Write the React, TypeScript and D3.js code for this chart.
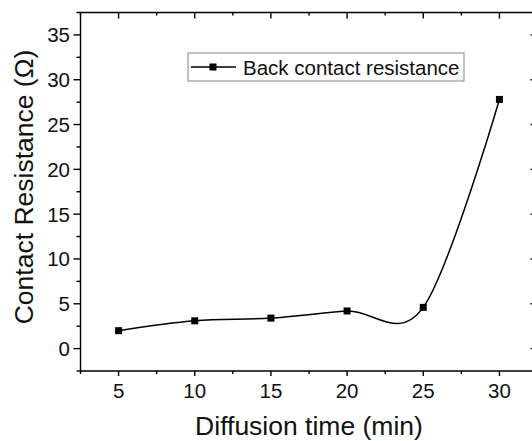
import React from "react";
import * as d3 from "d3";

const times = [5, 10, 15, 20, 25, 30];
const resistance = [2.0, 3.1, 3.4, 4.2, 4.6, 27.8];
const xTicks = [5, 10, 15, 20, 25, 30];
const yTicks = [0, 5, 10, 15, 20, 25, 30, 35];
const xMinor = [2.5, 7.5, 12.5, 17.5, 22.5, 27.5, 32.5];
const yMinor = [-2.5, 2.5, 7.5, 12.5, 17.5, 22.5, 27.5, 32.5, 37.5];
const seriesName = "Back contact resistance";
const xTitle = "Diffusion time (min)";
const yTitle = "Contact Resistance (Ω)";

const W = 532;
const H = 441;
const font = "'Liberation Sans', Arial, sans-serif";

export default function App() {
  const x = d3.scaleLinear().domain([2.5, 32.5]).range([80.5, 537.5]);
  const y = d3.scaleLinear().domain([-2.5, 37.5]).range([371, 12.5]);
  const data = times.map((t, i) => [t, resistance[i]] as [number, number]);
  const line = d3
    .line<[number, number]>()
    .x((d) => x(d[0]))
    .y((d) => y(d[1]))
    .curve(d3.curveCardinal.tension(0));

  const x0 = x.range()[0];
  const x1 = x.range()[1];
  const yb = y.range()[0];
  const yt = y.range()[1];
  const ax = "#000";

  return (
    <svg
      width={W}
      height={H}
      style={{ position: "absolute", left: 0, top: 0, background: "#fff" }}
      fontFamily={font}
    >
      <rect x={0} y={0} width={W} height={H} fill="#fff" />
      <g stroke={ax} strokeWidth={1.4} fill="none">
        <line x1={x0} y1={yt} x2={x0} y2={yb} />
        <line x1={x0} y1={yb} x2={x1} y2={yb} />
        <line x1={x0} y1={yt} x2={x1} y2={yt} />
        <line x1={x1} y1={yt} x2={x1} y2={yb} />
        {xTicks.map((t) => (
          <line key={"bx" + t} x1={x(t)} x2={x(t)} y1={yb} y2={yb + 5} />
        ))}
        {xMinor.map((t) => (
          <line key={"bxm" + t} x1={x(t)} x2={x(t)} y1={yb} y2={yb + 3} />
        ))}
        {xTicks.map((t) => (
          <line key={"tx" + t} x1={x(t)} x2={x(t)} y1={yt} y2={yt + 6} />
        ))}
        {xMinor.map((t) => (
          <line key={"txm" + t} x1={x(t)} x2={x(t)} y1={yt} y2={yt + 3} />
        ))}
        {yTicks.map((t) => (
          <line key={"ly" + t} x1={x0 - 7} x2={x0} y1={y(t)} y2={y(t)} />
        ))}
        {yMinor.map((t) => (
          <line key={"lym" + t} x1={x0 - 4} x2={x0} y1={y(t)} y2={y(t)} />
        ))}
        {yTicks.map((t) => (
          <line key={"ry" + t} x1={x1 - 7} x2={x1} y1={y(t)} y2={y(t)} />
        ))}
        {yMinor.map((t) => (
          <line key={"rym" + t} x1={x1 - 4} x2={x1} y1={y(t)} y2={y(t)} />
        ))}
      </g>
      <g fontSize={20.5} fill="#111">
        {xTicks.map((t) => (
          <text key={"xl" + t} x={x(t)} y={398} textAnchor="middle">
            {t}
          </text>
        ))}
        {yTicks.map((t) => (
          <text
            key={"yl" + t}
            x={70}
            y={y(t)}
            textAnchor="end"
            dominantBaseline="central"
          >
            {t}
          </text>
        ))}
      </g>
      <text x={309} y={435} textAnchor="middle" fontSize={26.5} fill="#111">
        {xTitle}
      </text>
      <text
        transform={`translate(33,187) rotate(-90)`}
        textAnchor="middle"
        fontSize={26.5}
        fill="#111"
      >
        {yTitle}
      </text>
      <path d={line(data) || ""} fill="none" stroke="#000" strokeWidth={1.5} />
      {data.map((d, i) => (
        <rect
          key={"m" + i}
          x={x(d[0]) - 3.5}
          y={y(d[1]) - 3.5}
          width={7}
          height={7}
          fill="#000"
        />
      ))}
      <rect
        x={188}
        y={53}
        width={276}
        height={28}
        fill="#fff"
        stroke="#999"
        strokeWidth={1.2}
      />
      <line x1={191} x2={236} y1={67} y2={67} stroke="#000" strokeWidth={1.5} />
      <rect x={209.5} y={63.5} width={7} height={7} fill="#000" />
      <text x={243} y={74.5} fontSize={20.5} fill="#111">
        {seriesName}
      </text>
    </svg>
  );
}
